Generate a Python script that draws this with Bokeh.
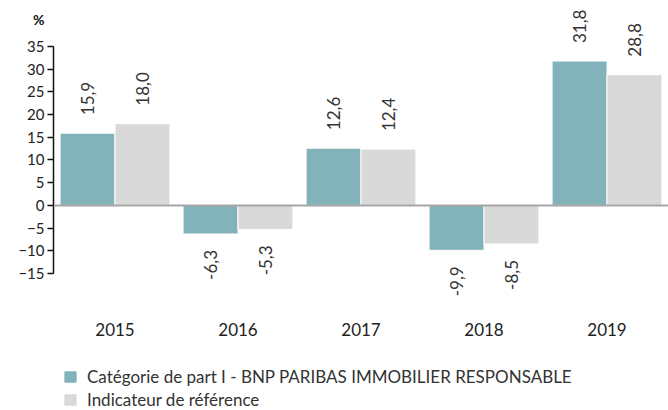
from bokeh.plotting import figure
from bokeh.layouts import column
from bokeh.models import (ColumnDataSource, FactorRange, Range1d, FixedTicker, Span,
                          Legend, LegendItem, LabelSet, LinearAxis)
from bokeh.transform import dodge
from bokeh.core.properties import value
from bokeh.embed import file_html
from bokeh.resources import INLINE

years = ["2015", "2016", "2017", "2018", "2019"]
fund = [15.9, -6.3, 12.6, -9.9, 31.8]
bench = [18.0, -5.3, 12.4, -8.5, 28.8]
fund_name = "Catégorie de part I - BNP PARIBAS IMMOBILIER RESPONSABLE"
bench_name = "Indicateur de référence"
y_ticks = [-15, -10, -5, 0, 5, 10, 15, 20, 25, 30, 35]
unit_label = "%"

TEAL = "#82B3BA"
GREY = "#D9D9D9"
FONT = "Lato"
TXT = "#333333"

def fmt(v):
    return f"{v:.1f}".replace(".", ",")

src = ColumnDataSource(dict(year=years, fund=fund, bench=bench))

def split(vals):
    pos = dict(year=[y for y, v in zip(years, vals) if v >= 0],
               val=[v for v in vals if v >= 0],
               lbl=[fmt(v) for v in vals if v >= 0])
    neg = dict(year=[y for y, v in zip(years, vals) if v < 0],
               val=[v for v in vals if v < 0],
               lbl=[fmt(v) for v in vals if v < 0])
    return ColumnDataSource(pos), ColumnDataSource(neg)

Y_TOP = 45.13
p = figure(width=668, height=365, x_range=FactorRange(factors=years),
           y_range=Range1d(-23.15, Y_TOP), output_backend="svg", toolbar_location=None,
           min_border_left=53, min_border_right=0, min_border_top=0, min_border_bottom=55)
p.outline_line_color = None
p.xgrid.grid_line_color = None
p.ygrid.grid_line_color = None

r1 = p.vbar(x=dodge("year", -0.223, range=p.x_range), top="fund", bottom=0, width=0.447,
            source=src, fill_color=TEAL, line_color="white", line_width=1)
r2 = p.vbar(x=dodge("year", 0.223, range=p.x_range), top="bench", bottom=0, width=0.447,
            source=src, fill_color=GREY, line_color="white", line_width=1)

p.add_layout(Span(location=0, dimension="width", line_color="#A6A6A6", line_width=2))

for vals, off in ((fund, -0.223), (bench, 0.223)):
    pos, neg = split(vals)
    p.add_layout(LabelSet(x=dodge("year", off, range=p.x_range), y="val", text="lbl",
                          source=pos, angle=1.5708, text_align="left", text_baseline="middle",
                          y_offset=18, text_font=value(FONT), text_font_size=value("17px"),
                          text_color=TXT))
    p.add_layout(LabelSet(x=dodge("year", off, range=p.x_range), y="val", text="lbl",
                          source=neg, angle=1.5708, text_align="right", text_baseline="middle",
                          y_offset=-16, text_font=value(FONT), text_font_size=value("17px"),
                          text_color=TXT))

ya = p.yaxis[0]
ya.ticker = FixedTicker(ticks=y_ticks)
ya.bounds = (-15, 35)
ya.axis_line_color = "#111111"
ya.axis_line_width = 1.5
ya.major_tick_line_color = "#111111"
ya.major_tick_line_width = 1.5
ya.major_tick_out = 6
ya.major_tick_in = 0
ya.minor_tick_line_color = None
ya.major_label_text_font = FONT
ya.major_label_text_font_size = "15px"
ya.major_label_text_color = "#222222"
ya.major_label_standoff = 3

# unit marker "%" as a second left axis carrying a single labelled tick above the scale
UNIT_POS = 40.95
ua = LinearAxis(ticker=FixedTicker(ticks=[UNIT_POS]),
                major_label_overrides={UNIT_POS: unit_label},
                axis_line_color=None, major_tick_line_color=None, minor_tick_line_color=None,
                major_tick_out=0, major_tick_in=0, major_label_standoff=-29,
                major_label_text_font=FONT, major_label_text_font_size="14px",
                major_label_text_font_style="bold", major_label_text_color="#111111")
p.add_layout(ua, "left")

xa = p.xaxis[0]
xa.axis_line_color = None
xa.major_tick_line_color = None
xa.minor_tick_line_color = None
xa.major_label_text_font = FONT
xa.major_label_text_font_size = "17px"
xa.major_label_text_color = "#222222"
xa.major_label_standoff = 6

# legend strip (renderers share the data but sit outside the visible range)
lg = figure(width=668, height=45, output_backend="svg", toolbar_location=None,
            x_axis_type=None, y_axis_type=None, min_border=0,
            x_range=p.x_range, y_range=Range1d(1000, 1001))
lg.outline_line_color = None
lg.xgrid.grid_line_color = None
lg.ygrid.grid_line_color = None
e1 = lg.vbar(x=dodge("year", -0.223, range=p.x_range), top="fund", bottom=0, width=0.447,
             source=src, fill_color=TEAL, line_color=TEAL)
e2 = lg.vbar(x=dodge("year", 0.223, range=p.x_range), top="bench", bottom=0, width=0.447,
             source=src, fill_color=GREY, line_color=GREY)
legend = Legend(items=[LegendItem(label=fund_name, renderers=[e1]),
                       LegendItem(label=bench_name, renderers=[e2])],
                location=(10, 0), orientation="vertical", padding=0, margin=0,
                spacing=2, label_height=21, glyph_height=13, glyph_width=14,
                label_standoff=10, border_line_color=None, background_fill_color=None,
                label_text_font=FONT, label_text_font_size="17px", label_text_color=TXT)
lg.add_layout(legend)

layout = column(p, lg, spacing=0)
open("out.html", "w").write(file_html(layout, INLINE))
